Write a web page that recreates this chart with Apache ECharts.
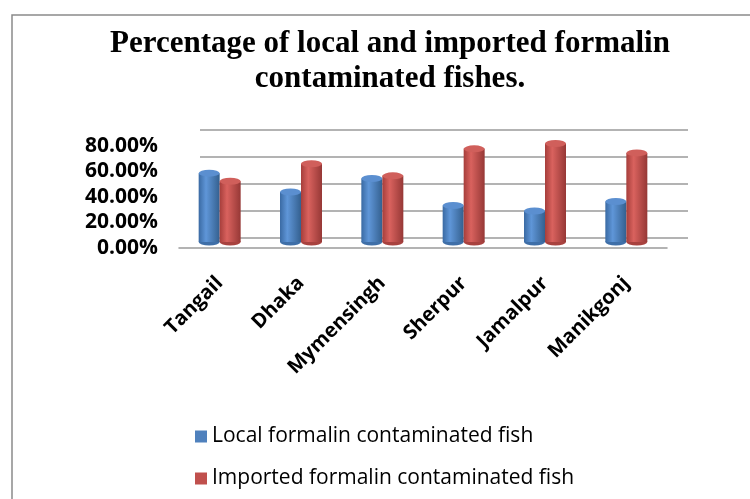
<!DOCTYPE html>
<html>
<head>
<meta charset="utf-8">
<script src="https://cdn.jsdelivr.net/npm/echarts@6/dist/echarts.min.js"></script>
<style>
  html, body { margin: 0; padding: 0; background: #fff; }
  #main { width: 750px; height: 499px; }
</style>
</head>
<body>
<div id="main"></div>
<script>
// 数据
var districts = ['Tangail', 'Dhaka', 'Mymensingh', 'Sherpur', 'Jamalpur', 'Manikgonj'];
var localFish = [51, 37, 47, 27, 23, 30];      // %
var importedFish = [45, 58, 49, 69, 73, 66];   // %
var seriesNames = ['Local formalin contaminated fish', 'Imported formalin contaminated fish'];

var blue = '#4F81BD', red = '#C0504D';

// 圆柱渐变
function cyl(c0, c1, c2) {
    return new echarts.graphic.LinearGradient(0, 0, 1, 0, [
        {offset: 0, color: c0},
        {offset: 0.35, color: c1},
        {offset: 1, color: c2}
    ]);
}

// 椭圆帽 (顶 / 底)
function cap(data, side, pos, color) {
    return {
        type: 'pictorialBar',
        xAxisIndex: 1, yAxisIndex: 1,
        symbol: 'circle',
        symbolSize: [21, 7],
        symbolPosition: pos,
        symbolOffset: [side, pos === 'end' ? '-50%' : '50%'],
        z: pos === 'end' ? 5 : 1,
        itemStyle: {color: color},
        data: data
    };
}

var chart = echarts.init(document.getElementById('main'));

var option = {
    backgroundColor: '#fff',
    animation: false,
    graphic: [{
        type: 'rect',
        shape: {x: 12, y: 15, width: 800, height: 600},
        style: {fill: 'none', stroke: '#8a8a8a', lineWidth: 1.5},
        silent: true
    }, {
        type: 'text',
        x: 390, y: 26,
        style: {
            text: 'Percentage of local and imported formalin\ncontaminated fishes.',
            align: 'center',
            font: 'bold 31px "Liberation Serif"',
            lineHeight: 35,
            fill: '#000'
        }
    }],
    legend: {
        orient: 'vertical',
        left: 190,
        top: 421,
        itemWidth: 12,
        itemHeight: 12,
        itemGap: 21,
        icon: 'rect',
        textStyle: {fontFamily: 'Open Sans', fontSize: 21, color: '#000'},
        data: [
            {name: seriesNames[0], itemStyle: {color: blue}},
            {name: seriesNames[1], itemStyle: {color: red}}
        ]
    },
    grid: [
        // 背景墙网格线
        {left: 200, right: 62, top: 130, height: 108},
        // 柱子
        {left: 179, right: 83, top: 134, height: 108},
        // y轴刻度文字
        {left: 179, right: 83, top: 146, height: 102}
    ],
    xAxis: [
        {gridIndex: 0, type: 'category', data: districts, show: false},
        {
            gridIndex: 1, type: 'category', data: districts,
            offset: 6,
            axisLine: {show: true, onZero: false, lineStyle: {color: '#9a9a9a', width: 1.5}},
            axisTick: {show: false},
            axisLabel: {
                rotate: 45,
                margin: 32,
                fontFamily: 'Open Sans',
                fontWeight: 'bold',
                fontSize: 20,
                color: '#000'
            }
        },
        {gridIndex: 2, type: 'category', data: districts, show: false}
    ],
    yAxis: [
        {
            gridIndex: 0, type: 'value', min: 0, max: 80, interval: 20,
            axisLine: {show: false}, axisTick: {show: false}, axisLabel: {show: false},
            splitLine: {lineStyle: {color: '#9a9a9a', width: 1.5}}
        },
        {
            gridIndex: 1, type: 'value', min: 0, max: 80, interval: 20,
            axisLine: {show: false}, axisTick: {show: false}, axisLabel: {show: false},
            splitLine: {show: false}
        },
        {
            gridIndex: 2, type: 'value', min: 0, max: 80, interval: 20,
            axisLine: {show: false}, axisTick: {show: false},
            splitLine: {show: false},
            axisLabel: {
                margin: 21,
                fontFamily: 'Open Sans',
                fontWeight: 'bold',
                fontSize: 21,
                color: '#000',
                formatter: function (v) { return v.toFixed(2) + '%'; }
            }
        }
    ],
    series: [
        {
            name: seriesNames[0],
            type: 'bar',
            xAxisIndex: 1, yAxisIndex: 1,
            barWidth: 21,
            barGap: '0%',
            z: 3,
            itemStyle: {color: cyl('#3a6aa3', '#5f96d8', '#34608f')},
            data: localFish
        },
        {
            name: seriesNames[1],
            type: 'bar',
            xAxisIndex: 1, yAxisIndex: 1,
            barWidth: 21,
            barGap: '0%',
            z: 3,
            itemStyle: {color: cyl('#a63e3b', '#d9625e', '#963836')},
            data: importedFish
        },
        cap(localFish, '-50%', 'end', '#5b8fd0'),
        cap(importedFish, '50%', 'end', '#d05f5b'),
        cap(localFish, '-50%', 'start', '#3f6fa8'),
        cap(importedFish, '50%', 'start', '#a8423f')
    ]
};

chart.setOption(option);
</script>
</body>
</html>
